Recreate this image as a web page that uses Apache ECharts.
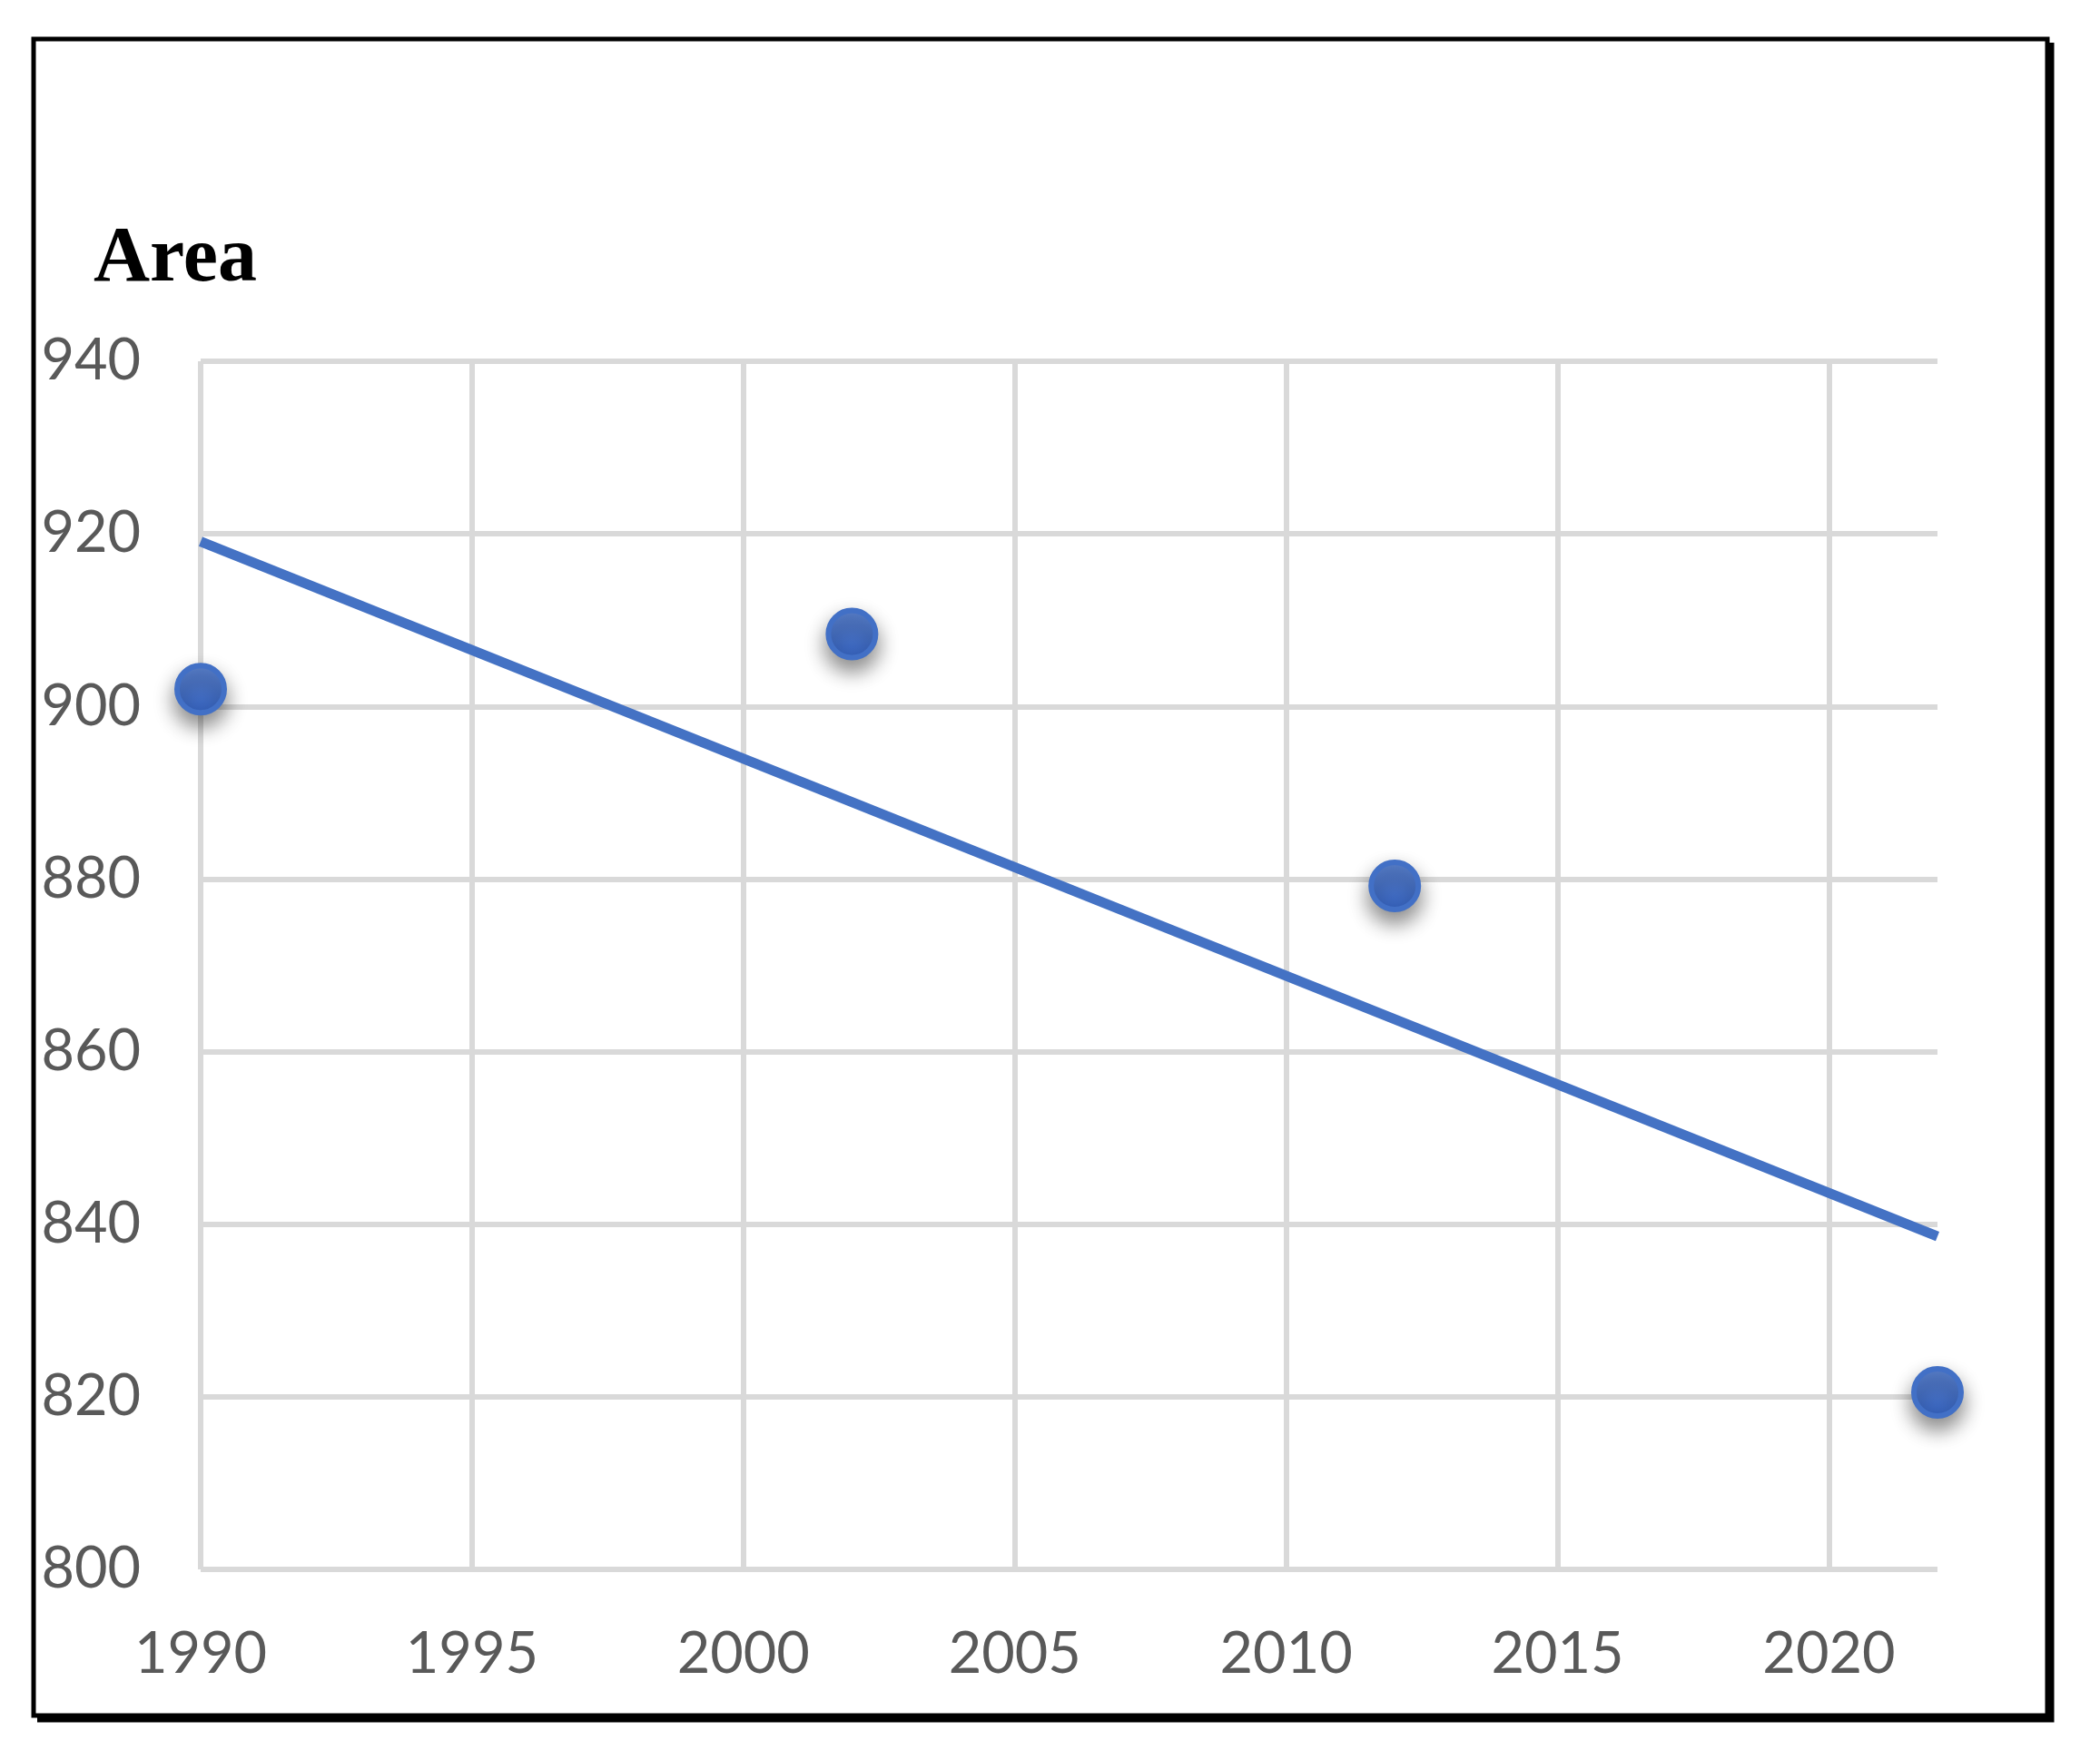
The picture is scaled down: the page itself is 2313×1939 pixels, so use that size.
<!DOCTYPE html>
<html>
<head>
<meta charset="utf-8">
<script src="https://cdn.jsdelivr.net/npm/echarts@6/dist/echarts.min.js"></script>
<style>
html,body{margin:0;padding:0;background:#fff;}
#chart{width:2313px;height:1939px;}
</style>
</head>
<body>
<div id="chart"></div>
<script>
// Data
const years = [1990, 2002, 2012, 2022];
const areas = [902.0, 908.4, 879.2, 820.5];
// Linear trend line end points (as drawn in the reference)
const trendYears = [1990, 2022];
const trendValues = [919.1, 838.6];
const yTicks = [800, 820, 840, 860, 880, 900, 920, 940];
const xTicks = [1990, 1995, 2000, 2005, 2010, 2015, 2020];
const titleText = 'Area';

const chart = echarts.init(document.getElementById('chart'), null, {renderer: 'canvas'});
const gridColor = '#d9d9d9';
const labelColor = '#595959';

const option = {
  backgroundColor: '#ffffff',
  animation: false,
  title: {
    text: titleText,
    left: 103,
    top: 244,
    padding: 0,
    textStyle: {
      fontFamily: 'Liberation Serif',
      fontWeight: 'bold',
      fontSize: 86,
      color: '#000000'
    }
  },
  grid: {
    left: 221,
    right: 179,
    top: 398,
    bottom: 210,
    containLabel: false
  },
  xAxis: {
    type: 'value',
    min: xTicks[0],
    max: 2022,
    interval: 5,
    axisLine: {show: false},
    axisTick: {show: false},
    axisLabel: {
      color: labelColor,
      fontFamily: 'Lato',
      fontSize: 63,
      margin: 62,
      showMaxLabel: false,
      formatter: v => (xTicks.indexOf(v) >= 0 ? String(v) : '')
    },
    splitLine: {
      show: true,
      showMaxLine: false,
      lineStyle: {color: gridColor, width: 6}
    }
  },
  yAxis: {
    type: 'value',
    min: yTicks[0],
    max: yTicks[yTicks.length - 1],
    interval: 20,
    axisLine: {show: false},
    axisTick: {show: false},
    axisLabel: {
      color: labelColor,
      fontFamily: 'Lato',
      fontSize: 63,
      margin: 66
    },
    splitLine: {
      show: true,
      lineStyle: {color: gridColor, width: 6}
    }
  },
  series: [
    {
      type: 'line',
      data: trendYears.map((y, i) => [y, trendValues[i]]),
      symbol: 'none',
      lineStyle: {color: '#4472C4', width: 11, cap: 'butt'},
      z: 2
    },
    {
      type: 'scatter',
      data: years.map((y, i) => [y, areas[i]]),
      symbol: 'circle',
      symbolSize: 52,
      itemStyle: {
        color: new echarts.graphic.LinearGradient(0, 0, 0, 1, [
          {offset: 0, color: '#5d84d0'},
          {offset: 1, color: '#3462c0'}
        ]),
        borderColor: '#4270c6',
        borderWidth: 6,
        shadowBlur: 22,
        shadowOffsetY: 12,
        shadowColor: 'rgba(0,0,0,0.45)',
        opacity: 1
      },
      z: 3
    }
  ],
  graphic: [
    {
      type: 'polyline',
      silent: true,
      shape: {points: [[2259, 47], [2259, 1894], [41, 1894]]},
      style: {stroke: '#000', lineWidth: 7, fill: null}
    },
    {
      type: 'rect',
      silent: true,
      shape: {x: 37, y: 43, width: 2218, height: 1847},
      style: {stroke: '#000', lineWidth: 5, fill: null}
    }
  ]
};
chart.setOption(option);
</script>
</body>
</html>
